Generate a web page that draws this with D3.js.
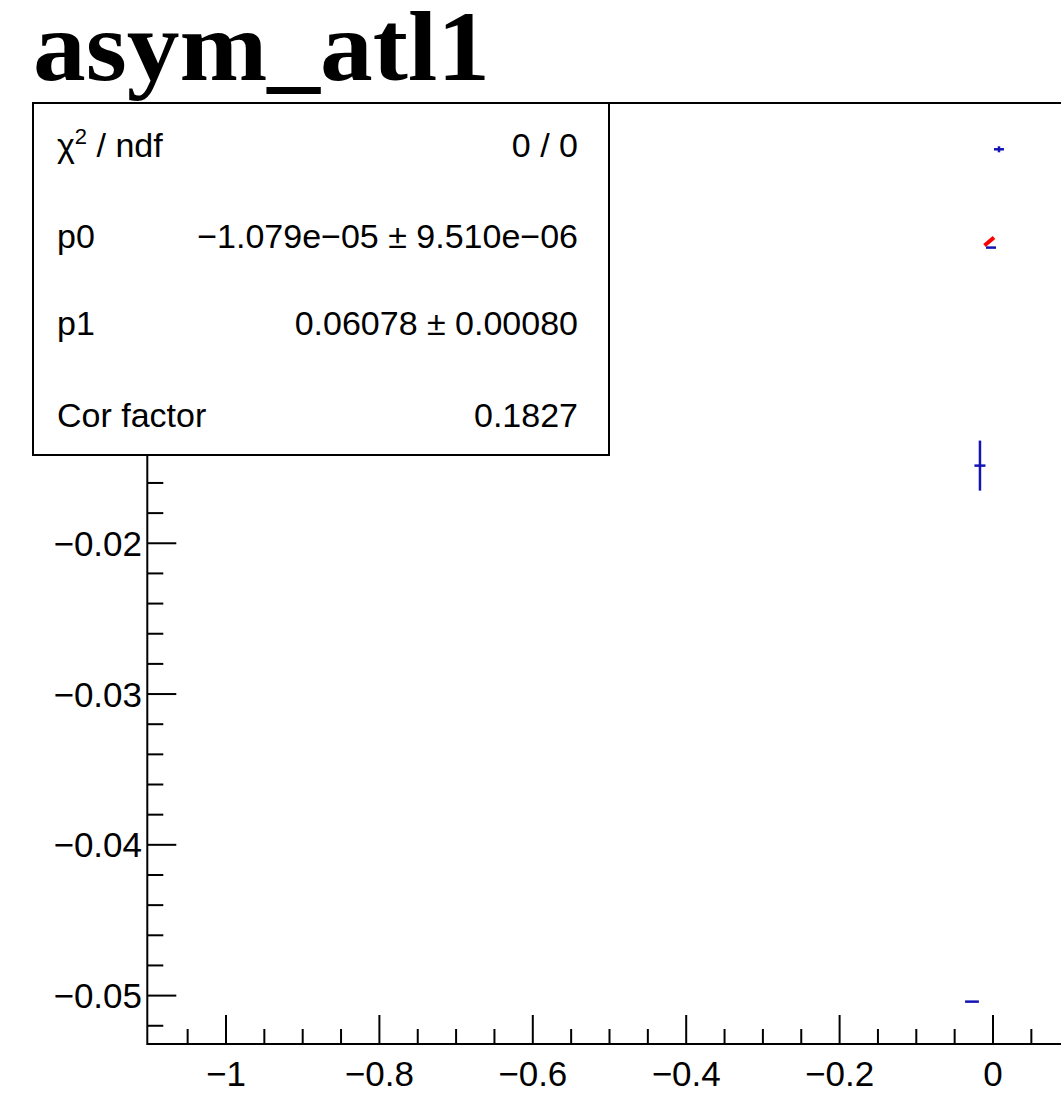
<!DOCTYPE html>
<html>
<head>
<meta charset="utf-8">
<script src="https://cdn.jsdelivr.net/npm/d3@7"></script>
<style>
  html, body { margin: 0; padding: 0; background: #fff; overflow: hidden; }
  svg { display: block; }
</style>
</head>
<body>
<svg id="chart" width="1061" height="1105"></svg>
<script>
// ---- data ----
const title = "asym_atl1";
const pointX    = [0.0078, -0.0026, -0.0170, -0.0274];
const pointY    = [0.00613, -0.00039, -0.01485, -0.0504];
const pointXErr = [0.0065, 0.0065, 0.0072, 0.0090];
const pointYErr = [0.0002, 0.0000, 0.00166, 0.0000];
const fitLineX  = [-0.0111, 0.0013];
const fitLineY  = [-0.00025, 0.00028];
const xMajorTicks = [-1, -0.8, -0.6, -0.4, -0.2, 0];
const xTickLabels = ["\u22121", "\u22120.8", "\u22120.6", "\u22120.4", "\u22120.2", "0"];
const yMajorTicks = [-0.05, -0.04, -0.03, -0.02, -0.01, 0];
const yTickLabels = ["\u22120.05", "\u22120.04", "\u22120.03", "\u22120.02", "\u22120.01", "0"];
const statNames  = ["chi2", "p0", "p1", "Cor factor"];
const statValues = ["0 / 0", "\u22121.079e\u221205 \u00b1 9.510e\u221206", "0.06078 \u00b1 0.00080", "0.1827"];

// ---- layout ----
const svg = d3.select("#chart");
const frame = { left: 147.3, top: 103, bottom: 1044, right: 1069.7 };
const box = { x: 33, y: 103, w: 576, h: 352 };
const x = d3.scaleLinear().domain([-1.1026, 0.1]).range([frame.left, frame.right]);
const y = d3.scaleLinear().domain([-0.05321, 0.00920]).range([frame.bottom, frame.top]);
const fontSans = "'Liberation Sans', Arial, Helvetica, sans-serif";
const hiddenByBox = v => y(v) < box.y + box.h + 2;

// title
svg.append("text")
  .attr("x", 33).attr("y", 80)
  .attr("font-family", "'Liberation Serif', 'Times New Roman', serif")
  .attr("font-weight", "bold")
  .attr("font-size", 100)
  .attr("textLength", 457)
  .attr("lengthAdjust", "spacingAndGlyphs")
  .attr("fill", "#000")
  .text(title);

// frame
const g = svg.append("g");
g.append("rect")
  .attr("x", frame.left).attr("y", frame.top)
  .attr("width", frame.right - frame.left).attr("height", frame.bottom - frame.top)
  .attr("fill", "none").attr("stroke", "#000").attr("stroke-width", 2);

// x axis ticks (pointing up, inside frame)
const xMinor = d3.range(-1.1, 0.1001, 0.05).map(v => +v.toFixed(3))
  .filter(v => !xMajorTicks.some(m => Math.abs(m - v) < 1e-6) && x(v) > frame.left + 2);
g.selectAll(".xminor").data(xMinor).enter().append("line")
  .attr("x1", d => x(d)).attr("x2", d => x(d))
  .attr("y1", frame.bottom).attr("y2", frame.bottom - 15)
  .attr("stroke", "#000").attr("stroke-width", 2);
g.selectAll(".xmajor").data(xMajorTicks).enter().append("line")
  .attr("x1", d => x(d)).attr("x2", d => x(d))
  .attr("y1", frame.bottom).attr("y2", frame.bottom - 29)
  .attr("stroke", "#000").attr("stroke-width", 2);
g.selectAll(".xlab").data(xMajorTicks).enter().append("text")
  .attr("x", d => x(d)).attr("y", 1086)
  .attr("text-anchor", "middle")
  .attr("font-family", fontSans).attr("font-size", 35)
  .attr("fill", "#000")
  .text((d, i) => xTickLabels[i]);

// y axis ticks (pointing right, inside frame); those under the stats box are covered
const yMinor = d3.range(-0.052, 0.0081, 0.002).map(v => +v.toFixed(4))
  .filter(v => !yMajorTicks.some(m => Math.abs(m - v) < 1e-7) && y(v) < frame.bottom - 2 && !hiddenByBox(v));
g.selectAll(".yminor").data(yMinor).enter().append("line")
  .attr("x1", frame.left).attr("x2", frame.left + 16)
  .attr("y1", d => y(d)).attr("y2", d => y(d))
  .attr("stroke", "#000").attr("stroke-width", 2);
const yMajVisible = yMajorTicks.map((v, i) => ({ v, label: yTickLabels[i] })).filter(d => !hiddenByBox(d.v));
g.selectAll(".ymajor").data(yMajVisible).enter().append("line")
  .attr("x1", frame.left).attr("x2", frame.left + 29)
  .attr("y1", d => y(d.v)).attr("y2", d => y(d.v))
  .attr("stroke", "#000").attr("stroke-width", 2);
g.selectAll(".ylab").data(yMajVisible).enter().append("text")
  .attr("x", 142).attr("y", d => y(d.v))
  .attr("dy", "0.36em")
  .attr("text-anchor", "end")
  .attr("font-family", fontSans).attr("font-size", 35)
  .attr("fill", "#000")
  .text(d => d.label);

// data points with error bars
const pts = pointX.map((v, i) => ({ x: v, y: pointY[i], ex: pointXErr[i], ey: pointYErr[i] }));
const blue = "#1414b4";
const pg = svg.append("g");
pg.selectAll(".ex").data(pts).enter().append("line")
  .attr("x1", d => x(d.x - d.ex)).attr("x2", d => x(d.x + d.ex))
  .attr("y1", d => y(d.y)).attr("y2", d => y(d.y))
  .attr("stroke", blue).attr("stroke-width", 2.5);
pg.selectAll(".ey").data(pts.filter(d => d.ey > 0)).enter().append("line")
  .attr("x1", d => x(d.x)).attr("x2", d => x(d.x))
  .attr("y1", d => y(d.y - d.ey)).attr("y2", d => y(d.y + d.ey))
  .attr("stroke", blue).attr("stroke-width", 2.5);

// fit line
const fitPts = fitLineX.map((v, i) => [v, fitLineY[i]]);
svg.append("path")
  .attr("d", d3.line().x(d => x(d[0])).y(d => y(d[1]))(fitPts))
  .attr("fill", "none").attr("stroke", "#ff0000").attr("stroke-width", 4);

// stats box
const sb = svg.append("g");
sb.append("rect")
  .attr("x", box.x).attr("y", box.y).attr("width", box.w).attr("height", box.h)
  .attr("fill", "#fff").attr("stroke", "#000").attr("stroke-width", 2);
const rowBase = [157, 248, 335, 427];
statNames.forEach((n, i) => {
  const t = sb.append("text")
    .attr("x", 57).attr("y", rowBase[i])
    .attr("font-family", fontSans).attr("font-size", 34).attr("fill", "#000");
  if (n === "chi2") {
    t.append("tspan").text("\u03c7");
    t.append("tspan").attr("font-size", 22).attr("dy", -13).text("2");
    t.append("tspan").attr("dy", 13).text(" / ndf");
  } else {
    t.text(n);
  }
  sb.append("text")
    .attr("x", 578).attr("y", rowBase[i])
    .attr("text-anchor", "end")
    .attr("font-family", fontSans).attr("font-size", 34).attr("fill", "#000")
    .text(statValues[i]);
});
</script>
</body>
</html>
